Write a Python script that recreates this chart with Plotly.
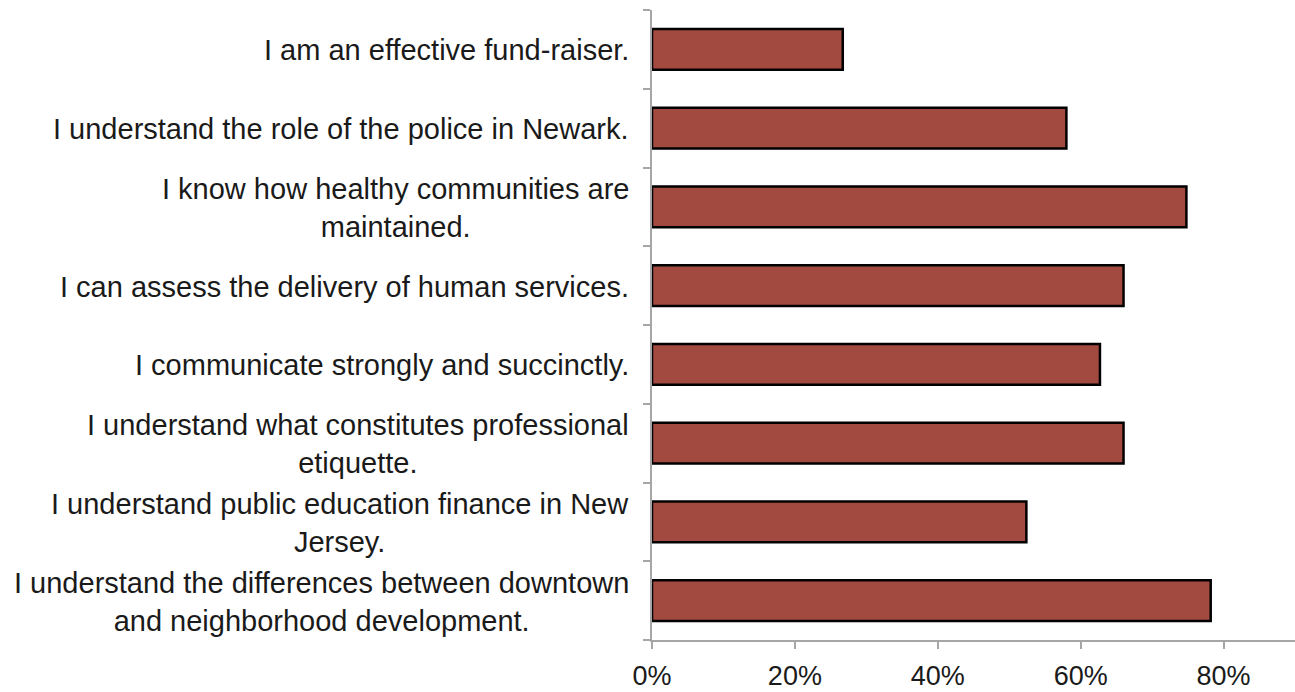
import plotly.graph_objects as go

categories = [
    "I am an effective fund-raiser.",
    "I understand the role of the police in Newark.",
    "I know how healthy communities are<br>maintained.",
    "I can assess the delivery of human services.",
    "I communicate strongly and succinctly.",
    "I understand what constitutes professional<br>etiquette.",
    "I understand public education finance in New<br>Jersey.",
    "I understand the differences between downtown<br>and neighborhood development.",
]
values = [0.267, 0.58, 0.748, 0.66, 0.627, 0.66, 0.524, 0.782]
x_tickvals = [0, 0.2, 0.4, 0.6, 0.8]
x_ticktext = ["0%", "20%", "40%", "60%", "80%"]

fig = go.Figure(go.Bar(
    y=categories, x=values, orientation="h",
    marker=dict(color="#a34a40", line=dict(color="black", width=2.5)),
    width=0.52,
    hoverinfo="skip",
))

font_family = "Liberation Sans, Arial, Helvetica, sans-serif"
for cat in categories:
    fig.add_annotation(
        x=0, xref="paper", y=cat, yref="y",
        text=cat, showarrow=False,
        xanchor="right", yanchor="middle", align="center",
        xshift=-21, yshift=-1,
        font=dict(family=font_family, size=29, color="#1a1a1a"),
    )

axis_gray = "#a6a6a6"
fig.update_layout(
    width=1295, height=692,
    margin=dict(l=652, r=0, t=10, b=52),
    plot_bgcolor="white", paper_bgcolor="white",
    font=dict(family=font_family, size=27, color="#1a1a1a"),
    showlegend=False,
    bargap=0.48,
)
fig.update_xaxes(
    range=[0, 0.9], tickvals=x_tickvals, ticktext=x_ticktext,
    showgrid=False, zeroline=False,
    showline=True, linecolor=axis_gray, linewidth=1.5,
    ticks="outside", ticklen=7, tickcolor=axis_gray, tickwidth=1.5,
    tickfont=dict(size=27), ticklabelstandoff=4,
)
fig.update_yaxes(
    categoryorder="array", categoryarray=categories[::-1],
    showgrid=False, zeroline=False,
    showline=True, linecolor=axis_gray, linewidth=1.5,
    ticks="outside", ticklen=7, tickcolor=axis_gray, tickwidth=1.5,
    tickson="boundaries", showticklabels=False,
)

fig.write_html("out.html")
